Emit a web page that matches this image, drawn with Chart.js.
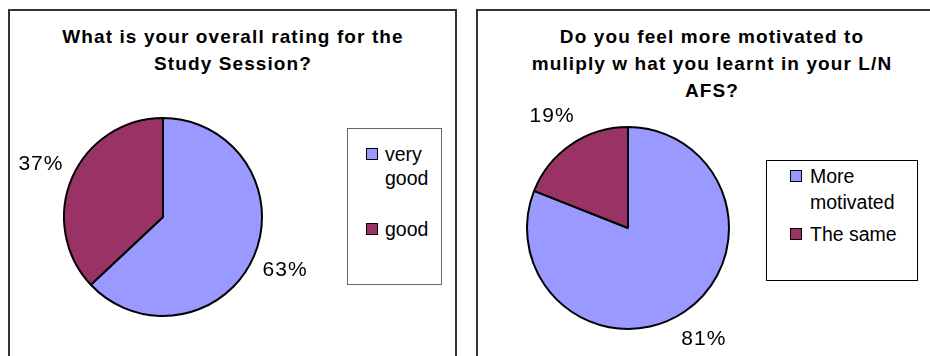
<!DOCTYPE html>
<html>
<head>
<meta charset="utf-8">
<script src="https://cdn.jsdelivr.net/npm/chart.js@4.4.1/dist/chart.umd.min.js"></script>
<style>
  html, body { margin: 0; padding: 0; background: #fff; }
  body { width: 930px; height: 356px; overflow: hidden; position: relative;
         font-family: "Liberation Sans", Arial, sans-serif; color: #000; }
  .panel { position: absolute; border: 2px solid #333; box-sizing: border-box; }
  .title { position: absolute; text-align: center; font-weight: bold; font-size: 19px;
           line-height: 27px; letter-spacing: 1.1px; white-space: nowrap; }
  .legend { position: absolute; box-sizing: border-box; background: #fff; }
  .item { position: absolute; font-size: 19.5px; }
  .swatch { position: absolute; width: 12px; height: 12px; box-sizing: border-box;
            border: 1.5px solid #000; }
  canvas { position: absolute; }
</style>
</head>
<body>
<div class="panel" style="left:8px;top:9px;width:449px;height:400px"></div>
<div class="panel" style="left:476px;top:9px;width:520px;height:400px"></div>

<script>
// Survey answers, in percent
const ratingTitle = ['What is your overall rating for the', 'Study Session?'];
const ratingLabels = ['very good', 'good'];
const ratingValues = [63, 37];

const motivationTitle = ['Do you feel more motivated to', 'muliply w hat you learnt in your L/N', 'AFS?'];
const motivationLabels = ['More motivated', 'The same'];
const motivationValues = [81, 19];

const sliceColors = ['#9999FF', '#993366'];

// Percent labels placed outside each slice, along its middle angle
const pctLabels = {
  id: 'pctLabels',
  afterDatasetsDraw(chart, args, opts) {
    const ctx = chart.ctx;
    const meta = chart.getDatasetMeta(0);
    const vals = chart.data.datasets[0].data;
    ctx.save();
    ctx.font = '21px "Liberation Sans", Arial, sans-serif';
    ctx.letterSpacing = '1px';
    ctx.fillStyle = '#000';
    ctx.textAlign = 'center';
    ctx.textBaseline = 'middle';
    meta.data.forEach((arc, i) => {
      const p = arc.getProps(['x', 'y', 'startAngle', 'endAngle', 'outerRadius'], true);
      const mid = (p.startAngle + p.endAngle) / 2;
      const d = p.outerRadius + opts.gap;
      ctx.fillText(vals[i] + '%', p.x + Math.cos(mid) * d, p.y + Math.sin(mid) * d);
    });
    ctx.restore();
  }
};

function addTitle(lines, left, width) {
  const el = document.createElement('div');
  el.className = 'title';
  el.style.left = left + 'px';
  el.style.top = '23px';
  el.style.width = width + 'px';
  lines.forEach((t, i) => {
    if (i) el.appendChild(document.createElement('br'));
    el.appendChild(document.createTextNode(t));
  });
  document.body.appendChild(el);
}

function makePie(g, labels, values) {
  const cv = document.createElement('canvas');
  cv.width = g.w; cv.height = g.h;
  cv.style.left = g.x + 'px'; cv.style.top = g.y + 'px';
  cv.style.width = g.w + 'px'; cv.style.height = g.h + 'px';
  document.body.appendChild(cv);
  const cx = g.cx - g.x, cy = g.cy - g.y, half = g.r + 2;
  return new Chart(cv, {
    type: 'pie',
    data: {
      labels: labels,
      datasets: [{
        data: values,
        backgroundColor: sliceColors,
        borderColor: '#000',
        borderWidth: 2,
        radius: g.r
      }]
    },
    options: {
      responsive: false,
      animation: false,
      devicePixelRatio: 1,
      events: [],
      layout: { padding: { left: cx - half, right: g.w - cx - half, top: cy - half, bottom: g.h - cy - half } },
      plugins: {
        legend: { display: false },
        tooltip: { enabled: false },
        title: { display: false },
        pctLabels: { gap: 34 }
      }
    },
    plugins: [pctLabels]
  });
}

// Legend box built from the chart's own labels and slice colours
function makeLegend(chart, box, items) {
  const b = document.createElement('div');
  b.className = 'legend';
  Object.assign(b.style, {
    left: box.x + 'px', top: box.y + 'px', width: box.w + 'px', height: box.h + 'px',
    border: '1px solid ' + box.color
  });
  document.body.appendChild(b);
  const colors = chart.data.datasets[0].backgroundColor;
  chart.data.labels.forEach((lab, i) => {
    const sw = document.createElement('div');
    sw.className = 'swatch';
    sw.style.background = colors[i];
    sw.style.left = items.swatchX + 'px';
    sw.style.top = (items.centers[i] - 6) + 'px';
    document.body.appendChild(sw);
    const tx = document.createElement('div');
    tx.className = 'item';
    tx.textContent = lab;
    tx.style.left = items.textX + 'px';
    tx.style.top = (items.centers[i] - items.lh / 2) + 'px';
    tx.style.width = items.textW + 'px';
    tx.style.lineHeight = items.lh + 'px';
    document.body.appendChild(tx);
  });
}

addTitle(ratingTitle, 10, 446);
addTitle(motivationTitle, 477, 470);

const ratingChart = makePie({ x: 10, y: 100, w: 330, h: 256, cx: 163, cy: 217, r: 99 }, ratingLabels, ratingValues);
const motivationChart = makePie({ x: 480, y: 95, w: 290, h: 261, cx: 628, cy: 228, r: 101 }, motivationLabels, motivationValues);

makeLegend(ratingChart, { x: 347, y: 128, w: 95, h: 157, color: '#666' },
  { swatchX: 366, textX: 385, textW: 52, lh: 24, centers: [154, 229] });
makeLegend(motivationChart, { x: 766, y: 160, w: 152, h: 121, color: '#000' },
  { swatchX: 790, textX: 810, textW: 100, lh: 26, centers: [176, 234] });
</script>
</body>
</html>
